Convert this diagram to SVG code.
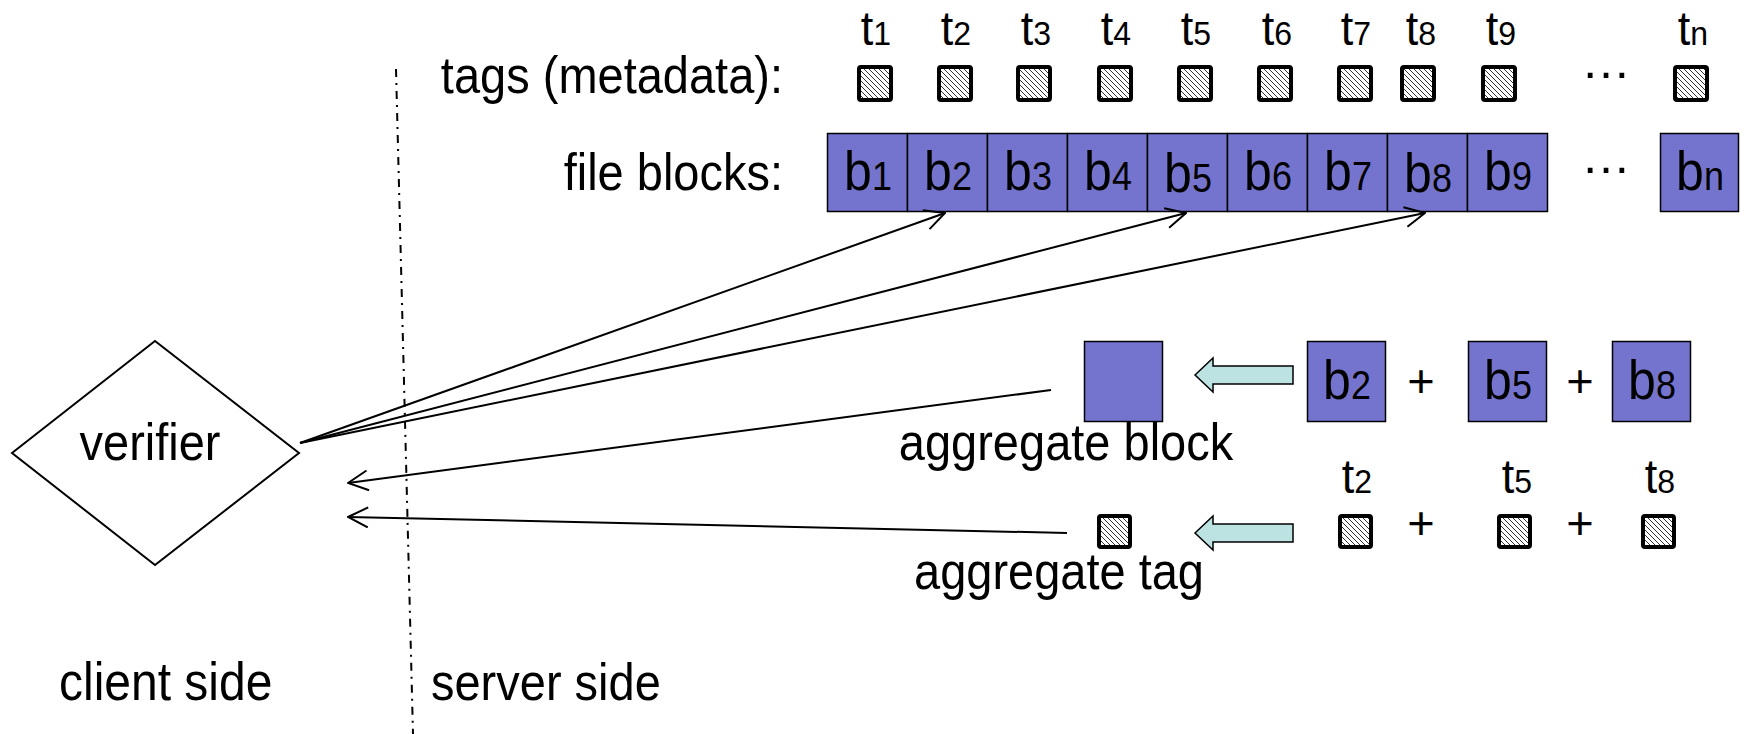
<svg xmlns="http://www.w3.org/2000/svg" width="1744" height="734" viewBox="0 0 1744 734">
  <defs>
    <pattern id="hatch" patternUnits="userSpaceOnUse" width="5" height="5">
      <rect width="5" height="5" fill="#fff"/>
      <path d="M-1,-1 L6,6 M-1,4 L1,6 M4,-1 L6,1" stroke="#000" stroke-width="0.8"/>
    </pattern>
    <marker id="open" viewBox="0 0 22 22" refX="21" refY="11" markerWidth="22" markerHeight="22" markerUnits="userSpaceOnUse" orient="auto">
      <path d="M1,1 L21,11 L1,21" fill="none" stroke="#000" stroke-width="2"/>
    </marker>
    <style>
      text { font-family: "Liberation Sans", Arial, sans-serif; fill: #000; }
      .lbl { font-size: 47px; }
      .blk { fill: #7474CF; stroke: #000; stroke-width: 1.5; }
      .tag { fill: url(#hatch); stroke: #000; stroke-width: 4; }
      .bt { font-size: 50px; text-anchor: middle; }
      .bs { font-size: 36px; }
      .tt { font-size: 45px; text-anchor: middle; }
      .ts { font-size: 32px; }
      .conn { fill: none; stroke: #000; stroke-width: 2; marker-end: url(#open); }
      .big { fill: #BCE2E2; stroke: #000; stroke-width: 1.5; }
      .dots { font-size: 50px; text-anchor: middle; }
    </style>
  </defs>

  <!-- divider -->
  <g id="divider">
    <line x1="396" y1="69" x2="413" y2="734" stroke="#000" stroke-width="2" stroke-dasharray="8 6 2 6"/>
  </g>

  <!-- labels -->
  <g id="row-labels">
    <text class="lbl" transform="translate(783 93) scale(1 1.1)" text-anchor="end">tags (metadata):</text>
    <text class="lbl" transform="translate(783 190) scale(1 1.1)" text-anchor="end">file blocks:</text>
    <text class="lbl" transform="translate(59 700) scale(1 1.1)" style="font-size:48px">client side</text>
    <text class="lbl" transform="translate(431 700) scale(1 1.1)">server side</text>
  </g>

  <!-- tag labels -->
  <g id="tag-labels">
    <text class="tt" transform="translate(876 45) scale(1 1.05)">t<tspan class="ts">1</tspan></text>
    <text class="tt" transform="translate(956 45) scale(1 1.05)">t<tspan class="ts">2</tspan></text>
    <text class="tt" transform="translate(1036 45) scale(1 1.05)">t<tspan class="ts">3</tspan></text>
    <text class="tt" transform="translate(1116 45) scale(1 1.05)">t<tspan class="ts">4</tspan></text>
    <text class="tt" transform="translate(1196 45) scale(1 1.05)">t<tspan class="ts">5</tspan></text>
    <text class="tt" transform="translate(1277 45) scale(1 1.05)">t<tspan class="ts">6</tspan></text>
    <text class="tt" transform="translate(1356 45) scale(1 1.05)">t<tspan class="ts">7</tspan></text>
    <text class="tt" transform="translate(1421 45) scale(1 1.05)">t<tspan class="ts">8</tspan></text>
    <text class="tt" transform="translate(1501 45) scale(1 1.05)">t<tspan class="ts">9</tspan></text>
    <text class="tt" transform="translate(1693 45) scale(1 1.05)">t<tspan class="ts">n</tspan></text>
  </g>

  <!-- tags -->
  <g id="tags">
    <rect class="tag" x="859" y="67" width="32" height="33" rx="2"/>
    <rect class="tag" x="939" y="67" width="32" height="33" rx="2"/>
    <rect class="tag" x="1018" y="67" width="32" height="33" rx="2"/>
    <rect class="tag" x="1099" y="67" width="32" height="33" rx="2"/>
    <rect class="tag" x="1179" y="67" width="32" height="33" rx="2"/>
    <rect class="tag" x="1259" y="67" width="32" height="33" rx="2"/>
    <rect class="tag" x="1339" y="67" width="32" height="33" rx="2"/>
    <rect class="tag" x="1402" y="67" width="32" height="33" rx="2"/>
    <rect class="tag" x="1483" y="67" width="32" height="33" rx="2"/>
    <rect class="tag" x="1675" y="67" width="32" height="33" rx="2"/>
    <text class="dots" x="1606" y="78">…</text>
  </g>

  <!-- file blocks -->
  <g id="blocks">
    <rect class="blk" x="827.5" y="133.5" width="80" height="78"/>
    <rect class="blk" x="907.5" y="133.5" width="80" height="78"/>
    <rect class="blk" x="987.5" y="133.5" width="80" height="78"/>
    <rect class="blk" x="1067.5" y="133.5" width="80" height="78"/>
    <rect class="blk" x="1147.5" y="133.5" width="80" height="78"/>
    <rect class="blk" x="1227.5" y="133.5" width="80" height="78"/>
    <rect class="blk" x="1307.5" y="133.5" width="80" height="78"/>
    <rect class="blk" x="1387.5" y="133.5" width="80" height="78"/>
    <rect class="blk" x="1467.5" y="133.5" width="80" height="78"/>
    <rect class="blk" x="1660.5" y="133.5" width="78" height="78"/>
    <text class="bt" transform="translate(868 190) scale(1 1.12)">b<tspan class="bs">1</tspan></text>
    <text class="bt" transform="translate(948 190) scale(1 1.12)">b<tspan class="bs">2</tspan></text>
    <text class="bt" transform="translate(1028 190) scale(1 1.12)">b<tspan class="bs">3</tspan></text>
    <text class="bt" transform="translate(1108 190) scale(1 1.12)">b<tspan class="bs">4</tspan></text>
    <text class="bt" transform="translate(1188 192) scale(1 1.12)">b<tspan class="bs">5</tspan></text>
    <text class="bt" transform="translate(1268 190) scale(1 1.12)">b<tspan class="bs">6</tspan></text>
    <text class="bt" transform="translate(1348 190) scale(1 1.12)">b<tspan class="bs">7</tspan></text>
    <text class="bt" transform="translate(1428 192) scale(1 1.12)">b<tspan class="bs">8</tspan></text>
    <text class="bt" transform="translate(1508 190) scale(1 1.12)">b<tspan class="bs">9</tspan></text>
    <text class="bt" transform="translate(1700 190) scale(1 1.12)">b<tspan class="bs">n</tspan></text>
    <text class="dots" x="1606" y="173">…</text>
  </g>

  <!-- verifier -->
  <g id="verifier">
    <polygon points="12,453 155,341 299,453 155,565" fill="#fff" stroke="#000" stroke-width="2"/>
    <text class="lbl" transform="translate(150 460) scale(1 1.1)" text-anchor="middle">verifier</text>
  </g>

  <!-- aggregate block -->
  <g id="aggregate-block">
    <rect class="blk" x="1084.5" y="341.5" width="78" height="80"/>
    <text class="lbl" transform="translate(1066 460) scale(1 1.1)" text-anchor="middle">aggregate block</text>
  </g>

  <!-- aggregate tag -->
  <g id="aggregate-tag">
    <rect class="tag" x="1099" y="516" width="31" height="31" rx="2"/>
    <text class="lbl" transform="translate(1059 589) scale(1 1.1)" text-anchor="middle">aggregate tag</text>
  </g>

  <!-- selected blocks sum -->
  <g id="block-sum">
    <rect class="blk" x="1307.5" y="341.5" width="78" height="80"/>
    <rect class="blk" x="1468.5" y="341.5" width="78" height="80"/>
    <rect class="blk" x="1612.5" y="341.5" width="78" height="80"/>
    <text class="bt" transform="translate(1347 399) scale(1 1.12)">b<tspan class="bs">2</tspan></text>
    <text class="bt" transform="translate(1508 399) scale(1 1.12)">b<tspan class="bs">5</tspan></text>
    <text class="bt" transform="translate(1652 399) scale(1 1.12)">b<tspan class="bs">8</tspan></text>
    <text class="lbl" x="1421" y="397" text-anchor="middle">+</text>
    <text class="lbl" x="1580" y="397" text-anchor="middle">+</text>
  </g>

  <!-- selected tags sum -->
  <g id="tag-sum">
    <text class="tt" transform="translate(1357 493) scale(1 1.05)">t<tspan class="ts">2</tspan></text>
    <text class="tt" transform="translate(1517 493) scale(1 1.05)">t<tspan class="ts">5</tspan></text>
    <text class="tt" transform="translate(1660 493) scale(1 1.05)">t<tspan class="ts">8</tspan></text>
    <rect class="tag" x="1340" y="516" width="31" height="31" rx="2"/>
    <rect class="tag" x="1499" y="516" width="31" height="31" rx="2"/>
    <rect class="tag" x="1643" y="516" width="31" height="31" rx="2"/>
    <text class="lbl" x="1421" y="539" text-anchor="middle">+</text>
    <text class="lbl" x="1580" y="539" text-anchor="middle">+</text>
  </g>

  <!-- connectors -->
  <g id="connectors">
    <line class="conn" x1="300" y1="443" x2="945" y2="213"/>
    <line class="conn" x1="300" y1="443" x2="1186" y2="213"/>
    <line class="conn" x1="300" y1="443" x2="1425" y2="213"/>
    <line class="conn" x1="1051" y1="390" x2="348" y2="483"/>
    <line class="conn" x1="1067" y1="533" x2="348" y2="517"/>
    <polygon class="big" points="1195,375 1213,358 1213,366 1293,366 1293,384 1213,384 1213,392"/>
    <polygon class="big" points="1195,533 1213,516 1213,524 1293,524 1293,542 1213,542 1213,550"/>
  </g>
</svg>
